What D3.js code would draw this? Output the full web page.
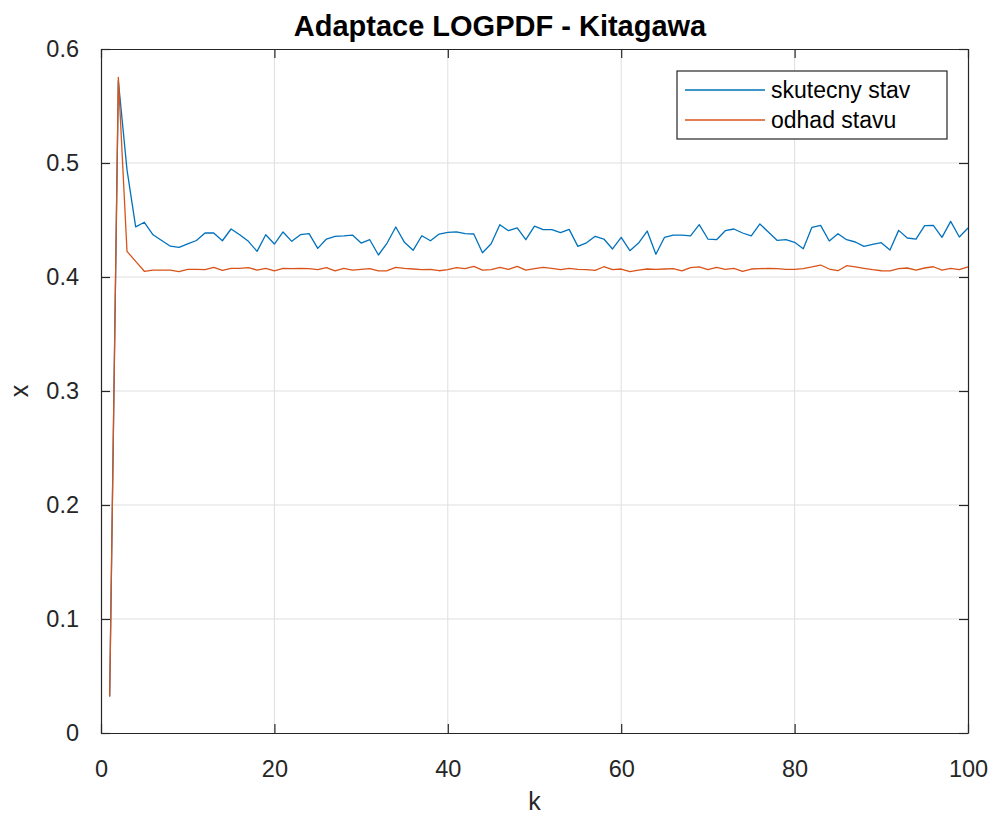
<!DOCTYPE html>
<html>
<head>
<meta charset="utf-8">
<script src="https://cdn.jsdelivr.net/npm/d3@7"></script>
<style>
  body { margin: 0; background: #fff; }
  svg { font-family: "Liberation Sans", Arial, Helvetica, sans-serif; }
</style>
</head>
<body>
<div id="chart"></div>
<script>
// Data, k = 1..100
var kValues = d3.range(1, 101);
var skutecnyStav = [
  0.032, 0.572, 0.494, 0.444, 0.448, 0.437, 0.432, 0.427, 0.426, 0.429,
  0.432, 0.4386, 0.4386, 0.4318, 0.4421, 0.4371, 0.4313, 0.4225, 0.4371, 0.4289,
  0.4395, 0.4313, 0.4371, 0.438, 0.4251, 0.4333, 0.4357, 0.436, 0.4368, 0.4298,
  0.4327, 0.4193, 0.4298, 0.4439, 0.4304, 0.4234, 0.4362, 0.4318, 0.4377, 0.4391,
  0.4395, 0.438, 0.4377, 0.4213, 0.4292, 0.4459, 0.4406, 0.443, 0.4327, 0.4447,
  0.4415, 0.4415, 0.4389, 0.4418, 0.4269, 0.430, 0.4357, 0.4333, 0.4246, 0.4348,
  0.4231, 0.4298, 0.4403, 0.4199, 0.4348, 0.4368, 0.4368, 0.436, 0.4459, 0.4333,
  0.4327, 0.4406, 0.4421, 0.4386, 0.436, 0.4465, 0.4392, 0.4321, 0.4327, 0.4304,
  0.4248, 0.4436, 0.4453, 0.4316, 0.438, 0.4327, 0.4307, 0.4269, 0.4286, 0.4301,
  0.4237, 0.4409, 0.4342, 0.4333, 0.445, 0.4453, 0.4348, 0.4488, 0.4351, 0.443
];
var odhadStavu = [
  0.032, 0.575, 0.4225, 0.4137, 0.405, 0.406, 0.406, 0.406, 0.4047, 0.4067,
  0.4067, 0.4064, 0.4084, 0.4058, 0.4076, 0.4076, 0.4082, 0.4061, 0.4076, 0.4053,
  0.4076, 0.4073, 0.4076, 0.4073, 0.4064, 0.4082, 0.4053, 0.4076, 0.4061, 0.4067,
  0.4073, 0.4053, 0.4055, 0.4084, 0.4076, 0.4070, 0.4064, 0.4067, 0.4055, 0.4064,
  0.4082, 0.4073, 0.4093, 0.4061, 0.4064, 0.4084, 0.4067, 0.4093, 0.4061, 0.4073,
  0.4084, 0.4076, 0.4064, 0.4076, 0.4067, 0.4064, 0.4058, 0.4090, 0.4064, 0.4070,
  0.4047, 0.4061, 0.4070, 0.4067, 0.4070, 0.4073, 0.4053, 0.4082, 0.4088, 0.4064,
  0.4084, 0.4067, 0.4076, 0.4050, 0.4070, 0.4073, 0.4076, 0.4073, 0.4067, 0.4067,
  0.4073, 0.4088, 0.4105, 0.4070, 0.4055, 0.4099, 0.4088, 0.4076, 0.4064, 0.4055,
  0.4053, 0.4073, 0.4079, 0.4061, 0.4079, 0.4090, 0.4061, 0.4076, 0.4064, 0.4088
];
var xTicks = [0, 20, 40, 60, 80, 100];
var yTicks = [0, 0.1, 0.2, 0.3, 0.4, 0.5, 0.6];
var seriesNames = ["skutecny stav", "odhad stavu"];
var seriesColors = ["#0072BD", "#D95319"];

var W = 992, H = 814;
var margin = {top: 49, right: 24, bottom: 81, left: 101};
var width = W - margin.left - margin.right;
var height = H - margin.top - margin.bottom;
var axisColor = "#262626";

var svg = d3.select("#chart").append("svg")
  .attr("width", W)
  .attr("height", H);

var g = svg.append("g")
  .attr("transform", "translate(" + margin.left + "," + margin.top + ")");

var x = d3.scaleLinear().domain([0, 100]).range([0, width]);
var y = d3.scaleLinear().domain([0, 0.6]).range([height, 0]);

// grid
g.append("g").selectAll("line.gx")
  .data(xTicks.slice(1, -1))
  .enter().append("line")
  .attr("x1", function(d){ return x(d); }).attr("x2", function(d){ return x(d); })
  .attr("y1", 0).attr("y2", height)
  .attr("stroke", "#dfdfdf").attr("stroke-width", 1);
g.append("g").selectAll("line.gy")
  .data(yTicks.slice(1, -1))
  .enter().append("line")
  .attr("y1", function(d){ return y(d); }).attr("y2", function(d){ return y(d); })
  .attr("x1", 0).attr("x2", width)
  .attr("stroke", "#dfdfdf").attr("stroke-width", 1);

// lines
var series = [skutecnyStav, odhadStavu];
var line = d3.line()
  .x(function(d, i){ return x(kValues[i]); })
  .y(function(d){ return y(d); });

series.forEach(function(s, i){
  g.append("path")
    .datum(s)
    .attr("fill", "none")
    .attr("stroke", seriesColors[i])
    .attr("stroke-width", 1.3)
    .attr("stroke-linejoin", "round")
    .attr("d", line);
});

// axes (MATLAB style: box, inward ticks on all sides)
var tickLen = 9;
var xAxis = d3.axisBottom(x).tickValues(xTicks).tickSizeInner(-tickLen).tickSizeOuter(0).tickPadding(tickLen + 18);
var yAxis = d3.axisLeft(y).tickValues(yTicks).tickSizeInner(-tickLen).tickSizeOuter(0).tickPadding(tickLen + 13)
  .tickFormat(function(d){ return d === 0 ? "0" : d3.format(".1f")(d); });
var xTop = d3.axisTop(x).tickValues(xTicks).tickSizeInner(-tickLen).tickSizeOuter(0).tickFormat("");
var yRight = d3.axisRight(y).tickValues(yTicks).tickSizeInner(-tickLen).tickSizeOuter(0).tickFormat("");

function styleAxis(sel){
  sel.select(".domain").attr("stroke", axisColor).attr("stroke-width", 1.2);
  sel.selectAll(".tick line").attr("stroke", axisColor).attr("stroke-width", 1.2);
  sel.selectAll(".tick text").attr("fill", axisColor).style("font-size", "23.5px");
}

g.append("g").attr("transform", "translate(0," + height + ")").call(xAxis).call(styleAxis);
g.append("g").call(yAxis).call(styleAxis);
g.append("g").call(xTop).call(styleAxis);
g.append("g").attr("transform", "translate(" + width + ",0)").call(yRight).call(styleAxis);

// labels
svg.append("text")
  .attr("x", 500).attr("y", 36)
  .attr("text-anchor", "middle")
  .style("font-size", "29px").style("font-weight", "bold")
  .attr("fill", "#000")
  .text("Adaptace LOGPDF - Kitagawa");

svg.append("text")
  .attr("x", margin.left + width / 2).attr("y", 810)
  .attr("text-anchor", "middle")
  .style("font-size", "25px")
  .attr("fill", axisColor)
  .text("k");

svg.append("text")
  .attr("transform", "translate(28," + (margin.top + height / 2) + ") rotate(-90)")
  .attr("text-anchor", "middle")
  .style("font-size", "25px")
  .attr("fill", axisColor)
  .text("x");

// legend
var legend = svg.append("g").attr("transform", "translate(677,71)");
legend.append("rect")
  .attr("width", 270).attr("height", 68)
  .attr("fill", "#fff")
  .attr("stroke", axisColor).attr("stroke-width", 1.2);

seriesNames.forEach(function(name, i){
  var yy = 19 + i * 30;
  legend.append("line")
    .attr("x1", 8).attr("x2", 88)
    .attr("y1", yy).attr("y2", yy)
    .attr("stroke", seriesColors[i]).attr("stroke-width", 1.3);
  legend.append("text")
    .attr("x", 94).attr("y", yy + 8)
    .style("font-size", "23px")
    .attr("fill", "#000")
    .text(name);
});
</script>
</body>
</html>
